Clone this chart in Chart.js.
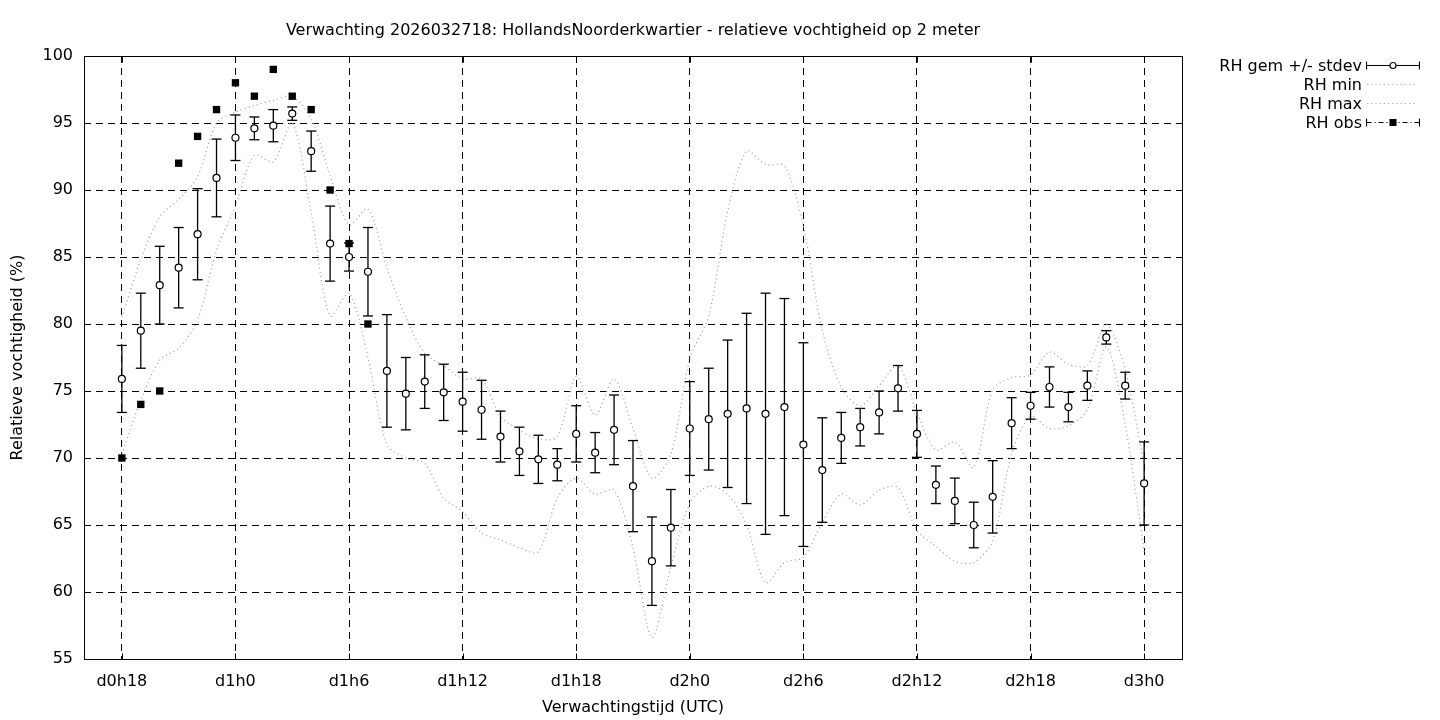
<!DOCTYPE html>
<html>
<head>
<meta charset="utf-8">
<script src="https://cdn.jsdelivr.net/npm/chart.js@4.4.1/dist/chart.umd.min.js"></script>
<style>
body { margin: 0; background: #fff; font-family: "DejaVu Sans", sans-serif; color: #000; }
#wrap { position: relative; width: 1440px; height: 720px; }
#title { position: absolute; left: 0; width: 1266px; top: 20px; text-align: center; font-size: 16px; line-height: 19px; }
#legend { position: absolute; left: 1160px; top: 56px; font-size: 16px; }
#legend .row { display: flex; align-items: center; height: 19px; }
#legend .row span { width: 202px; text-align: right; line-height: 19px; }
#legend .row svg { margin-left: 4px; }
</style>
</head>
<body>
<div id="wrap">
  <canvas id="rh" width="1440" height="720"></canvas>
  <div id="title">Verwachting 2026032718: HollandsNoorderkwartier - relatieve vochtigheid op 2 meter</div>
  <div id="legend">
    <div class="row"><span>RH gem +/- stdev</span>
      <svg width="54" height="19"><line x1="0.5" y1="9.5" x2="53.5" y2="9.5" stroke="#000" stroke-width="1.2"/><line x1="0.5" y1="5.5" x2="0.5" y2="13.5" stroke="#000" stroke-width="1.2"/><line x1="53.5" y1="5.5" x2="53.5" y2="13.5" stroke="#000" stroke-width="1.2"/><circle cx="27" cy="9.5" r="3" fill="#fff" stroke="#000" stroke-width="1.1"/></svg></div>
    <div class="row"><span>RH min</span>
      <svg width="54" height="19"><line x1="1" y1="9.5" x2="51" y2="9.5" stroke="#aaa" stroke-width="1.2" stroke-dasharray="1.2,3"/></svg></div>
    <div class="row"><span>RH max</span>
      <svg width="54" height="19"><line x1="1" y1="9.5" x2="51" y2="9.5" stroke="#aaa" stroke-width="1.2" stroke-dasharray="1.2,3"/></svg></div>
    <div class="row"><span>RH obs</span>
      <svg width="54" height="19"><line x1="0.5" y1="9.5" x2="53.5" y2="9.5" stroke="#000" stroke-width="1.2" stroke-dasharray="5,3,1,3"/><line x1="0.5" y1="5.5" x2="0.5" y2="13.5" stroke="#000" stroke-width="1.2"/><line x1="53.5" y1="5.5" x2="53.5" y2="13.5" stroke="#000" stroke-width="1.2"/><rect x="23.5" y="6" width="7" height="7" fill="#000"/></svg></div>
  </div>
</div>
<script>
// forecast hours (d0h18 .. d3h0)
var hours = [18, 19, 20, 21, 22, 23, 24, 25, 26, 27, 28, 29, 30, 31, 32, 33, 34, 35, 36, 37, 38, 39, 40, 41, 42, 43, 44, 45, 46, 47, 48, 49, 50, 51, 52, 53, 54, 55, 56, 57, 58, 59, 60, 61, 62, 63, 64, 65, 66, 67, 68, 69, 70, 71, 72];
var rhMean = [75.9, 79.5, 82.9, 84.2, 86.7, 90.9, 93.9, 94.6, 94.8, 95.7, 92.9, 86.0, 85.0, 83.9, 76.5, 74.8, 75.7, 74.9, 74.2, 73.6, 71.6, 70.5, 69.9, 69.5, 71.8, 70.4, 72.1, 67.9, 62.3, 64.8, 72.2, 72.9, 73.3, 73.7, 73.3, 73.8, 71.0, 69.1, 71.5, 72.3, 73.4, 75.2, 71.8, 68.0, 66.8, 65.0, 67.1, 72.6, 73.9, 75.3, 73.8, 75.4, 79.0, 75.4, 68.1];
var rhStdev = [2.5, 2.8, 2.9, 3.0, 3.4, 2.9, 1.7, 0.85, 1.2, 0.5, 1.5, 2.8, 1.05, 3.3, 4.2, 2.7, 2.0, 2.1, 2.2, 2.2, 1.9, 1.8, 1.8, 1.2, 2.1, 1.5, 2.6, 3.4, 3.3, 2.85, 3.5, 3.8, 5.5, 7.1, 9.0, 8.1, 7.6, 3.9, 1.9, 1.4, 1.6, 1.7, 1.75, 1.4, 1.7, 1.7, 2.7, 1.9, 1.0, 1.5, 1.1, 1.1, 0.5, 1.0, 3.1];
var rhMin = [70.3, 74.3, 77.3, 78.2, 80.3, 85.5, 88.8, 92.6, 92.1, 95.0, 88.3, 80.6, 82.3, 77.5, 71.0, 70.0, 69.6, 67.0, 66.0, 64.4, 63.9, 63.3, 63.0, 67.0, 68.5, 67.3, 67.6, 63.3, 56.6, 61.9, 66.6, 67.9, 67.3, 65.0, 60.7, 62.2, 62.6, 65.2, 67.3, 66.5, 67.6, 67.8, 64.6, 63.4, 62.3, 62.2, 63.8, 70.3, 73.1, 72.2, 72.4, 73.6, 78.3, 72.5, 63.0];
var rhMax = [80.5, 84.8, 88.0, 89.3, 91.0, 95.0, 95.8, 96.3, 96.7, 97.0, 95.3, 91.1, 87.4, 88.6, 84.2, 80.5, 77.8, 76.9, 75.9, 75.9, 73.1, 72.1, 71.4, 71.6, 76.1, 73.2, 75.9, 72.2, 68.5, 70.3, 77.4, 80.6, 88.4, 92.9, 91.9, 91.8, 87.3, 79.5, 75.3, 73.9, 75.4, 76.9, 73.4, 70.6, 71.2, 69.3, 75.1, 76.0, 76.2, 77.9, 77.0, 76.9, 80.0, 76.6, 69.5];
var obsHours = [18, 19, 20, 21, 22, 23, 24, 25, 26, 27, 28, 29, 30, 31];
var rhObs = [70, 74, 75, 92, 94, 96, 98, 97, 99, 97, 96, 90, 86, 80];
var tickHours = [18, 24, 30, 36, 42, 48, 54, 60, 66, 72];
var tickLabels = ["d0h18", "d1h0", "d1h6", "d1h12", "d1h18", "d2h0", "d2h6", "d2h12", "d2h18", "d3h0"];

var fontFam = "'DejaVu Sans', sans-serif";
var dotGrey = "#aaaaaa";

var barSegs = [], capPts = [], meanPts = [];
hours.forEach(function (h, i) {
	var lo = rhMean[i] - rhStdev[i], hi = rhMean[i] + rhStdev[i];
	barSegs.push({ x: h, y: lo }, { x: h, y: hi }, { x: h, y: null });
	capPts.push({ x: h, y: lo }, { x: h, y: hi });
	meanPts.push({ x: h, y: rhMean[i] });
});
var minPts = hours.map(function (h, i) { return { x: h, y: rhMin[i] }; });
var maxPts = hours.map(function (h, i) { return { x: h, y: rhMax[i] }; });
var obsPts = obsHours.map(function (h, i) { return { x: h, y: rhObs[i] }; });

// closed frame with small inward tics, like gnuplot
var framePlugin = {
	id: "frame",
	afterDraw: function (chart) {
		var ctx = chart.ctx, a = chart.chartArea, x = chart.scales.x, y = chart.scales.y;
		var l = Math.round(a.left) + 0.5, r = Math.round(a.right) + 0.5,
			t = Math.round(a.top) + 0.5, b = Math.round(a.bottom) + 0.5;
		ctx.save();
		ctx.strokeStyle = "#000";
		ctx.lineWidth = 1;
		ctx.setLineDash([]);
		ctx.strokeRect(l, t, r - l, b - t);
		ctx.beginPath();
		tickHours.forEach(function (h) {
			var px = Math.round(x.getPixelForValue(h)) + 0.5;
			ctx.moveTo(px, b); ctx.lineTo(px, b - 6);
			ctx.moveTo(px, t); ctx.lineTo(px, t + 6);
		});
		y.ticks.forEach(function (tk) {
			var py = Math.round(y.getPixelForValue(tk.value)) + 0.5;
			ctx.moveTo(l, py); ctx.lineTo(l + 6, py);
			ctx.moveTo(r, py); ctx.lineTo(r - 6, py);
		});
		ctx.stroke();
		ctx.restore();
	},
};

new Chart(document.getElementById("rh"), {
	type: "line",
	data: {
		datasets: [
			{
				label: "RH gem +/- stdev",
				data: meanPts,
				showLine: false,
				pointStyle: "circle",
				pointRadius: 3.5,
				pointBackgroundColor: "#fff",
				pointBorderColor: "#000",
				pointBorderWidth: 1.2,
				order: 0,
			},
			{
				label: "caps",
				data: capPts,
				showLine: false,
				pointStyle: "line",
				pointRadius: 5,
				pointBorderColor: "#000",
				pointBorderWidth: 1.3,
				order: 1,
			},
			{
				label: "bars",
				data: barSegs,
				borderColor: "#000",
				borderWidth: 1.3,
				pointRadius: 0,
				spanGaps: false,
				order: 2,
			},
			{
				label: "RH min",
				data: minPts,
				borderColor: dotGrey,
				borderWidth: 1.2,
				borderDash: [1.2, 3],
				pointRadius: 0,
				tension: 0.3,
				order: 3,
			},
			{
				label: "RH max",
				data: maxPts,
				borderColor: dotGrey,
				borderWidth: 1.2,
				borderDash: [1.2, 3],
				pointRadius: 0,
				tension: 0.3,
				order: 3,
			},
			{
				label: "RH obs",
				data: obsPts,
				showLine: false,
				pointStyle: "rect",
				pointRadius: 5.2,
				pointBackgroundColor: "#000",
				pointBorderColor: "#000",
				pointBorderWidth: 0,
				order: 0,
			},
		],
	},
	options: {
		responsive: false,
		animation: false,
		events: [],
		layout: { padding: { top: 56, right: 258, bottom: 0, left: 0 } },
		plugins: { legend: { display: false }, tooltip: { enabled: false }, title: { display: false } },
		scales: {
			x: {
				type: "linear",
				min: 16,
				max: 74,
				afterBuildTicks: function (s) { s.ticks = tickHours.map(function (v) { return { value: v }; }); },
				afterFit: function (s) { s.height = 61; },
				ticks: {
					color: "#000",
					padding: 13,
					font: { family: fontFam, size: 16 },
					callback: function (v) { var k = tickHours.indexOf(v); return k < 0 ? "" : tickLabels[k]; },
				},
				grid: { color: "#000", lineWidth: 1, drawTicks: false },
				border: { display: false, dash: [7, 5] },
				title: { display: true, text: "Verwachtingstijd (UTC)", color: "#000", font: { family: fontFam, size: 16 }, padding: { top: 4, bottom: 3 } },
			},
			y: {
				min: 55,
				max: 100,
				afterFit: function (s) { s.width = 84; },
				ticks: { stepSize: 5, color: "#000", padding: 11, font: { family: fontFam, size: 16 } },
				grid: { color: "#000", lineWidth: 1, drawTicks: false },
				border: { display: false, dash: [7, 5] },
				title: { display: true, text: "Relatieve vochtigheid (%)", color: "#000", font: { family: fontFam, size: 16 }, padding: { top: 8, bottom: 4 } },
			},
		},
	},
	plugins: [framePlugin],
});
</script>
</body>
</html>
